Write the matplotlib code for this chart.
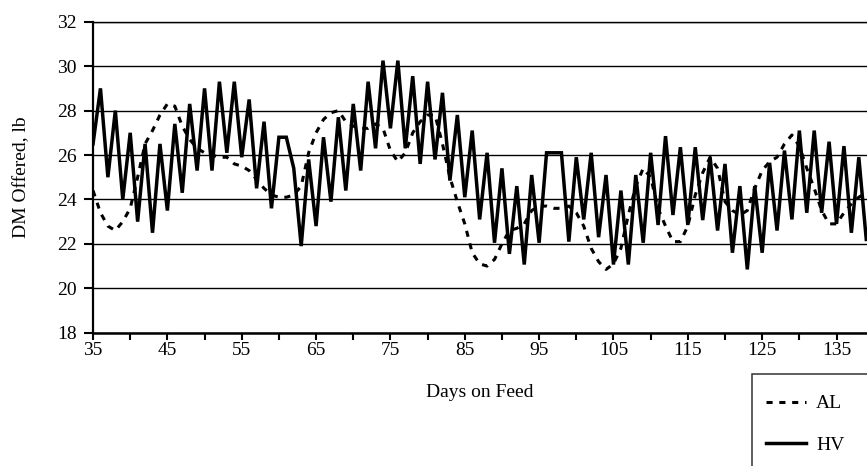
import matplotlib
matplotlib.use("Agg")
import matplotlib.pyplot as plt
from matplotlib.patches import Rectangle
from matplotlib.ticker import MultipleLocator

plt.rcParams["font.family"] = ["Liberation Serif", "DejaVu Serif"]

# daily dry matter offered, days 35-139
days = list(range(35, 140))
hv = [26.5, 29.0, 25.0, 28.0, 24.0, 27.0, 23.0, 26.5, 22.5, 26.5,
      23.5, 27.4, 24.3, 28.3, 25.3, 29.0, 25.3, 29.3, 26.1, 29.3,
      25.9, 28.5, 24.5, 27.5, 23.6, 26.8, 26.8, 25.4, 21.9, 25.8,
      22.8, 26.8, 23.9, 27.7, 24.4, 28.3, 25.3, 29.3, 26.3, 30.25,
      27.2, 30.25, 26.3, 29.55, 25.6, 29.3, 25.8, 28.8, 24.85, 27.8,
      24.1, 27.1, 23.1, 26.1, 22.05, 25.4, 21.55, 24.6, 21.07, 25.1,
      22.05, 26.1, 26.1, 26.1, 22.1, 25.9, 23.1, 26.1, 22.3, 25.1,
      21.07, 24.4, 21.07, 25.1, 22.05, 26.1, 22.85, 26.85, 23.3, 26.35,
      22.85, 26.35, 23.07, 25.9, 22.6, 25.6, 21.6, 24.6, 20.85, 24.6,
      21.6, 25.65, 22.6, 26.2, 23.1, 27.1, 23.4, 27.1, 23.4, 26.6,
      22.9, 26.4, 22.5, 25.9, 22.2]
al = [24.4, 23.4, 22.8, 22.6, 23.0, 23.6, 25.0, 26.5, 27.1, 27.8,
      28.3, 28.2, 27.3, 26.7, 26.3, 26.1, 26.0, 25.9, 25.9, 25.6,
      25.5, 25.3, 24.9, 24.5, 24.2, 24.1, 24.1, 24.2, 24.6, 26.1,
      27.0, 27.6, 27.9, 28.0, 27.5, 27.3, 27.2, 27.2, 27.4, 27.2,
      26.2, 25.7, 26.1, 27.0, 27.5, 27.8, 27.8, 26.5, 25.0, 23.9,
      22.9, 21.6, 21.1, 21.0, 21.3, 22.0, 22.6, 22.7, 22.9, 23.5,
      23.7, 23.7, 23.6, 23.6, 23.7, 23.4, 22.8, 21.8, 21.2, 20.85,
      21.1, 21.8, 23.3, 24.6, 25.4, 25.0, 23.6, 22.8, 22.1, 22.1,
      22.8, 24.2, 25.2, 25.9, 25.4, 23.9, 23.5, 23.3, 23.5, 24.5,
      25.3, 25.7, 25.9, 26.5, 26.9, 26.4, 25.4, 24.5, 23.5, 22.9,
      22.9, 23.4, 23.8, 24.1, 24.3]

fig = plt.figure(figsize=(8.67, 4.66), dpi=100)
ax = fig.add_axes([0.1073, 0.286, 0.8927, 0.6674])

ax.plot(days, al, color="black", lw=2.2, ls=(0, (2.0, 2.2)), label="AL", zorder=3)
ax.plot(days, hv, color="black", lw=2.5, solid_joinstyle="miter", label="HV", zorder=4)

ax.set_xlim(35, 139.1)
ax.set_ylim(18, 32)
ax.xaxis.set_major_locator(MultipleLocator(10, offset=5))
ax.xaxis.set_minor_locator(MultipleLocator(10))
ax.yaxis.set_major_locator(MultipleLocator(2))
ax.yaxis.grid(True, color="black", lw=1.0, zorder=1)
ax.set_axisbelow(True)

ax.spines["right"].set_visible(False)
ax.spines["top"].set_linewidth(1.0)
ax.spines["left"].set_linewidth(1.6)
ax.spines["bottom"].set_linewidth(1.8)

ax.tick_params(axis="both", which="both", direction="out", color="black",
               labelsize=14, width=1.5)
ax.tick_params(axis="y", length=6.5, pad=5)
ax.tick_params(axis="x", which="both", length=5, pad=2)

ax.set_ylabel("DM Offered, lb", fontsize=14)
ax.yaxis.set_label_coords(-0.081, 0.5)
ax.set_xlabel("Days on Feed", fontsize=14, va="top")
ax.xaxis.set_label_coords(0.5, -0.165)

# legend box runs off the lower right corner
fig.patches.append(Rectangle((0.8674, -0.1), 0.3, 0.2974, transform=fig.transFigure,
                             fill=False, edgecolor="#333333", lw=1.1))
fig.legend(loc="upper left", bbox_to_anchor=(0.883, 0.153), frameon=False,
           fontsize=14, handlelength=2.1, handletextpad=0.5, labelspacing=1.25,
           borderpad=0, borderaxespad=0)

fig.savefig("out.png", dpi=100, facecolor="white")
